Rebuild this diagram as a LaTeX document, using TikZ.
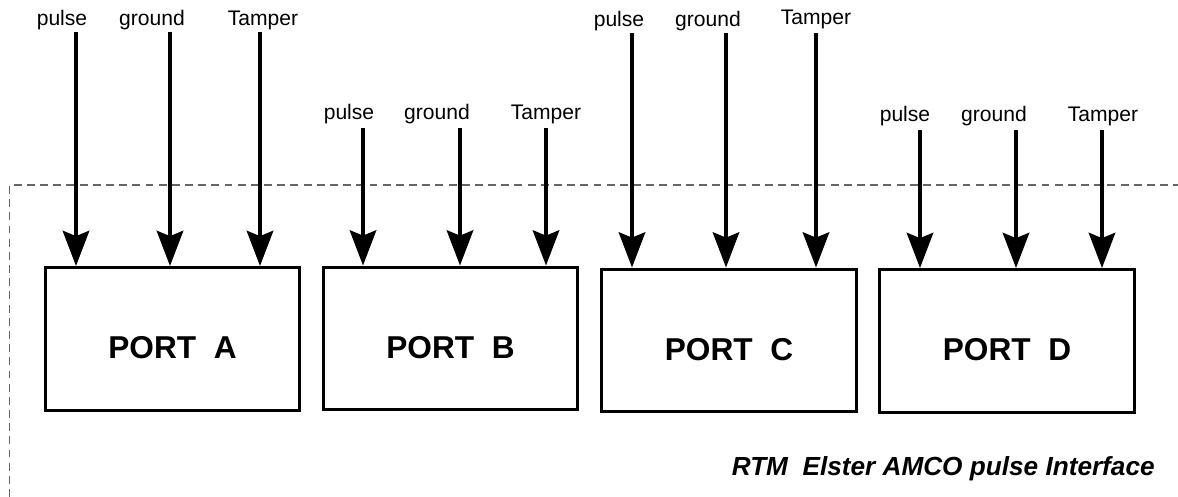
\documentclass[tikz,border=0pt]{standalone}
\usepackage{fontspec}
\setmainfont{Liberation Sans}
\usetikzlibrary{arrows.meta}

\begin{document}
\begin{tikzpicture}[x=0.02cm,y=-0.02cm,
  port/.style={draw,line width=1.7pt,minimum width=5.1cm,minimum height=2.86cm,inner sep=0pt},
  portname/.style={font=\fontsize{18}{20}\selectfont\bfseries},
  sig/.style={font=\fontsize{12}{14}\selectfont,anchor=base,inner sep=0pt},
  feed/.style={line width=2.3pt,-{Stealth[length=20pt,width=15pt,inset=3pt]}}]
\useasboundingbox (0,0) rectangle (1178,497);

% dashed frame
\draw[dashed,gray!80!black,line width=0.6pt,dash pattern=on 4.5pt off 3pt] (9.5,497)--(9.5,185)--(1178,185);

% ports
\node[port] (portA) at (172.5,339) {};
\node[port] (portB) at (450.5,338.5) {};
\node[port] (portC) at (729,340.5) {};
\node[port] (portD) at (1007,341) {};
\node[portname] (nameA) at ([yshift=-0.18cm]portA.center) {PORT\ \ A};
\node[portname] (nameB) at ([yshift=-0.18cm]portB.center) {PORT\ \ B};
\node[portname] (nameC) at ([yshift=-0.18cm]portC.center) {PORT\ \ C};
\node[portname] (nameD) at ([yshift=-0.18cm]portD.center) {PORT\ \ D};

% signal names
\node[sig] (pulseA) at (62,26) {pulse};
\node[sig] (groundA) at (152,26) {ground};
\node[sig] (tamperA) at (263,26) {Tamper};
\node[sig] (pulseB) at (349,119) {pulse};
\node[sig] (groundB) at (437,119) {ground};
\node[sig] (tamperB) at (546,119) {Tamper};
\node[sig] (pulseC) at (619,27) {pulse};
\node[sig] (groundC) at (708,27) {ground};
\node[sig] (tamperC) at (816,25) {Tamper};
\node[sig] (pulseD) at (905,121) {pulse};
\node[sig] (groundD) at (994,121) {ground};
\node[sig] (tamperD) at (1103,121) {Tamper};

% wire starts
\coordinate (inA1) at (76,32);
\coordinate (inA2) at (170,32);
\coordinate (inA3) at (260,32);
\coordinate (inB1) at (363,128);
\coordinate (inB2) at (460,128);
\coordinate (inB3) at (546,128);
\coordinate (inC1) at (632,33);
\coordinate (inC2) at (726,33);
\coordinate (inC3) at (816,33);
\coordinate (inD1) at (920,130);
\coordinate (inD2) at (1016,130);
\coordinate (inD3) at (1102,130);

\draw[feed] (inA1)--(inA1 |- portA.north);
\draw[feed] (inA2)--(inA2 |- portA.north);
\draw[feed] (inA3)--(inA3 |- portA.north);
\draw[feed] (inB1)--(inB1 |- portB.north);
\draw[feed] (inB2)--(inB2 |- portB.north);
\draw[feed] (inB3)--(inB3 |- portB.north);
\draw[feed] (inC1)--(inC1 |- portC.north);
\draw[feed] (inC2)--(inC2 |- portC.north);
\draw[feed] (inC3)--(inC3 |- portC.north);
\draw[feed] (inD1)--(inD1 |- portD.north);
\draw[feed] (inD2)--(inD2 |- portD.north);
\draw[feed] (inD3)--(inD3 |- portD.north);

\node[anchor=base east,inner sep=0pt,font=\fontsize{14.9}{17}\selectfont\bfseries\itshape] (title) at (1155,475) {RTM\ \ Elster AMCO pulse Interface};
\end{tikzpicture}
\end{document}
